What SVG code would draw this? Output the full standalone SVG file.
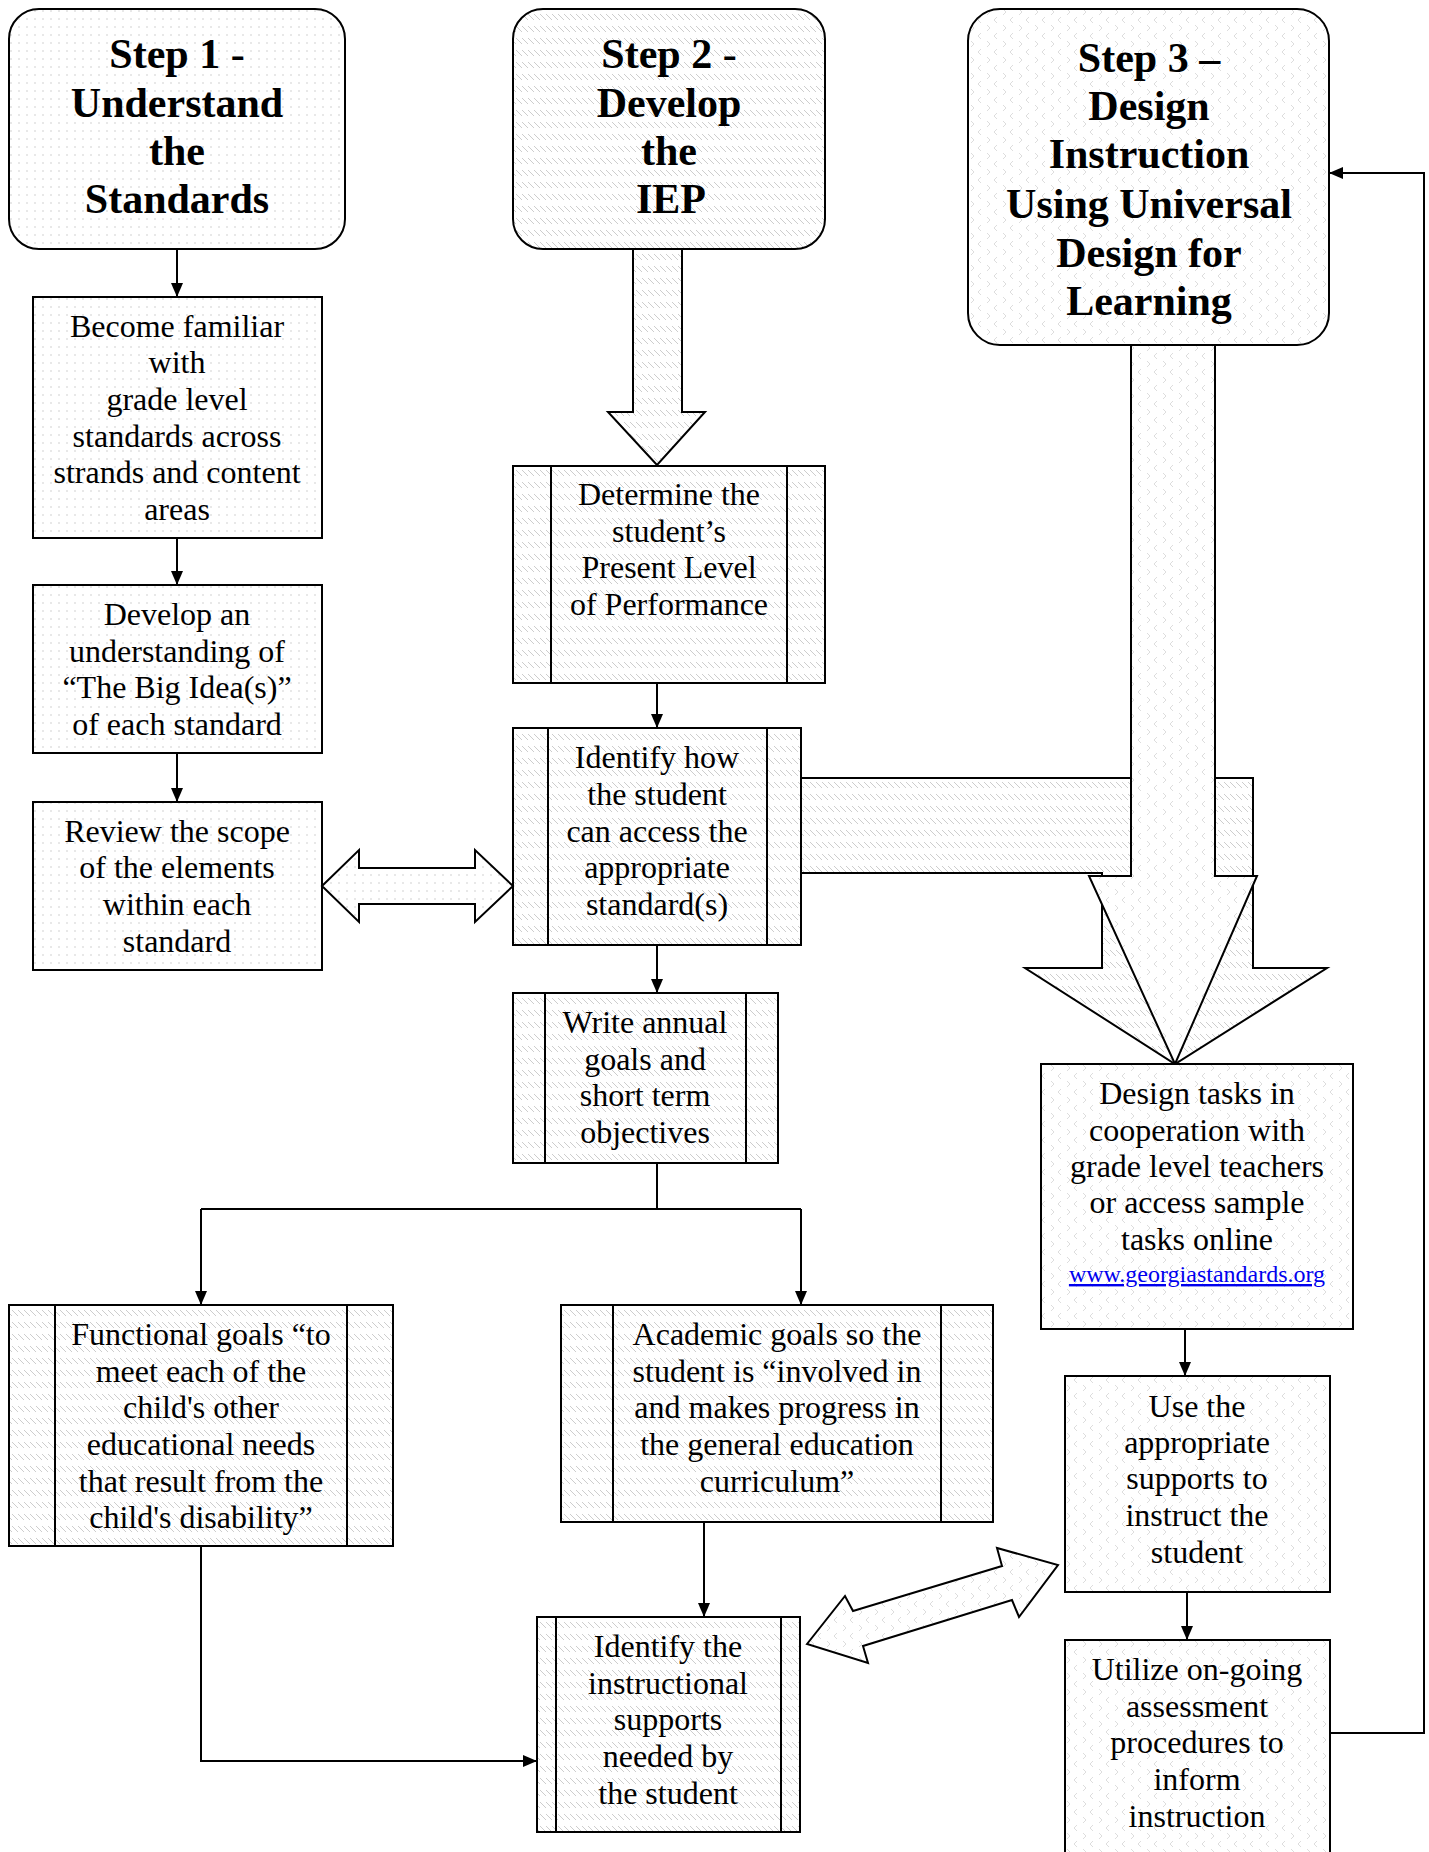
<svg xmlns="http://www.w3.org/2000/svg" width="1429" height="1852" viewBox="0 0 1429 1852">
<style>
.box{stroke:#000;stroke-width:2}
.t{font-family:"Liberation Serif","Times New Roman",serif;font-size:32px;text-anchor:middle;fill:#000}
.h{font-weight:bold;font-size:42px}
.url{font-size:24px;fill:#0000ee;text-decoration:underline}
.ln{stroke:#000;stroke-width:2;fill:none}
.ba{stroke:#000;stroke-width:2;stroke-linejoin:miter}
.dots{fill:url(#dots)}
.hatch{fill:url(#hatch)}
.zig{fill:url(#zig)}
</style>
<defs>
<pattern id="dots" width="8" height="8" patternUnits="userSpaceOnUse"><rect width="8" height="8" fill="#fff"/><circle cx="3" cy="3" r="0.8" fill="#cccccc"/></pattern>
<pattern id="hatch" width="6" height="12" patternUnits="userSpaceOnUse"><rect width="6" height="12" fill="#fff"/><path d="M0,2 L6,8" stroke="#cdcdcd" stroke-width="1"/></pattern>
<pattern id="zig" width="16" height="16" patternUnits="userSpaceOnUse"><rect width="16" height="16" fill="#fff"/><path d="M5,1 L2,4 L5,7 M11,9 L14,12 L11,15" stroke="#dddddd" stroke-width="1" fill="none"/></pattern>
<marker id="arr" viewBox="0 0 14 12" refX="14" refY="6" markerWidth="14" markerHeight="12" markerUnits="userSpaceOnUse" orient="auto"><path d="M0,0 L14,6 L0,12 Z" fill="#000"/></marker>
</defs>

<g id="step1">
<rect class="box dots" x="9" y="9" width="336" height="240" rx="30"/>
<text class="t h"><tspan x="177" y="68">Step 1 -</tspan><tspan x="177" y="117">Understand</tspan><tspan x="177" y="165">the</tspan><tspan x="177" y="213">Standards</tspan></text>
</g>
<g id="become">
<rect class="box dots" x="33" y="297" width="289" height="241"/>
<text class="t"><tspan x="177" y="337">Become familiar</tspan><tspan x="177" y="373">with</tspan><tspan x="177" y="410">grade level</tspan><tspan x="177" y="447">standards across</tspan><tspan x="177" y="483">strands and content</tspan><tspan x="177" y="520">areas</tspan></text>
</g>
<g id="develop">
<rect class="box dots" x="33" y="585" width="289" height="168"/>
<text class="t"><tspan x="177" y="625">Develop an</tspan><tspan x="177" y="662">understanding of</tspan><tspan x="177" y="698">“The Big Idea(s)”</tspan><tspan x="177" y="735">of each standard</tspan></text>
</g>
<g id="review">
<rect class="box dots" x="33" y="802" width="289" height="168"/>
<text class="t"><tspan x="177" y="842">Review the scope</tspan><tspan x="177" y="878">of the elements</tspan><tspan x="177" y="915">within each</tspan><tspan x="177" y="952">standard</tspan></text>
</g>

<g id="step2">
<rect class="box hatch" x="513" y="9" width="312" height="240" rx="30"/>
<text class="t h"><tspan x="669" y="68">Step 2 -</tspan><tspan x="669" y="117">Develop</tspan><tspan x="669" y="165">the</tspan><tspan x="671" y="213">IEP</tspan></text>
</g>
<g id="determine">
<rect class="box hatch" x="513" y="466" width="312" height="217"/>
<path class="ln" d="M551,466 V683 M787,466 V683"/>
<text class="t"><tspan x="669" y="505">Determine the</tspan><tspan x="669" y="542">student’s</tspan><tspan x="669" y="578">Present Level</tspan><tspan x="669" y="615">of Performance</tspan></text>
</g>
<g id="identify-access">
<rect class="box hatch" x="513" y="728" width="288" height="217"/>
<path class="ln" d="M548,728 V945 M767,728 V945"/>
<text class="t"><tspan x="657" y="768">Identify how</tspan><tspan x="657" y="805">the student</tspan><tspan x="657" y="842">can access the</tspan><tspan x="657" y="878">appropriate</tspan><tspan x="657" y="915">standard(s)</tspan></text>
</g>
<g id="write">
<rect class="box hatch" x="513" y="993" width="265" height="170"/>
<path class="ln" d="M545,993 V1163 M746,993 V1163"/>
<text class="t"><tspan x="645" y="1033">Write annual</tspan><tspan x="645" y="1070">goals and</tspan><tspan x="645" y="1106">short term</tspan><tspan x="645" y="1143">objectives</tspan></text>
</g>
<g id="functional">
<rect class="box hatch" x="9" y="1305" width="384" height="241"/>
<path class="ln" d="M55,1305 V1546 M347,1305 V1546"/>
<text class="t"><tspan x="201" y="1345">Functional goals “to</tspan><tspan x="201" y="1382">meet each of the</tspan><tspan x="201" y="1418">child's other</tspan><tspan x="201" y="1455">educational needs</tspan><tspan x="201" y="1492">that result from the</tspan><tspan x="201" y="1528">child's disability”</tspan></text>
</g>
<g id="academic">
<rect class="box hatch" x="561" y="1305" width="432" height="217"/>
<path class="ln" d="M613,1305 V1522 M941,1305 V1522"/>
<text class="t"><tspan x="777" y="1345">Academic goals so the</tspan><tspan x="777" y="1382">student is “involved in</tspan><tspan x="777" y="1418">and makes progress in</tspan><tspan x="777" y="1455">the general education</tspan><tspan x="777" y="1492">curriculum”</tspan></text>
</g>
<g id="identify-supports">
<rect class="box hatch" x="537" y="1617" width="263" height="215"/>
<path class="ln" d="M556,1617 V1832 M781,1617 V1832"/>
<text class="t"><tspan x="668" y="1657">Identify the</tspan><tspan x="668" y="1694">instructional</tspan><tspan x="668" y="1730">supports</tspan><tspan x="668" y="1767">needed by</tspan><tspan x="668" y="1804">the student</tspan></text>
</g>

<g id="connectors">
<g id="block-arrows">
<polygon class="ba hatch" points="633,249 682,249 682,412 705,412 657,465 608,412 633,412"/>
<polygon class="ba dots" points="322,886 359,850 359,868 475,868 475,850 513,886 475,922 475,904 359,904 359,922"/>
<polygon class="ba hatch" points="801,778 1253,778 1253,968 1327,968 1175,1064 1025,968 1102,968 1102,873 801,873"/>
<polygon class="ba zig" points="1131,345 1215,345 1215,876 1257,876 1175,1064 1089,876 1131,876"/>
<polygon class="ba zig" points="807,1644 845,1596 853,1611 1002,1566 997,1548 1058,1565 1019,1617 1012,1600 863,1646 868,1663"/>
</g>
<path class="ln" d="M177,249 V297" marker-end="url(#arr)"/>
<path class="ln" d="M177,538 V585" marker-end="url(#arr)"/>
<path class="ln" d="M177,753 V802" marker-end="url(#arr)"/>
<path class="ln" d="M657,683 V728" marker-end="url(#arr)"/>
<path class="ln" d="M657,945 V993" marker-end="url(#arr)"/>
<path class="ln" d="M657,1163 V1209 M201,1209 H801"/>
<path class="ln" d="M201,1209 V1305" marker-end="url(#arr)"/>
<path class="ln" d="M801,1209 V1305" marker-end="url(#arr)"/>
<path class="ln" d="M201,1546 V1761 H537" marker-end="url(#arr)"/>
<path class="ln" d="M704,1522 V1617" marker-end="url(#arr)"/>
<path class="ln" d="M1185,1329 V1376" marker-end="url(#arr)"/>
<path class="ln" d="M1187,1592 V1640" marker-end="url(#arr)"/>
<path class="ln" d="M1330,1733 H1424 V173 H1329" marker-end="url(#arr)"/>
</g>

<g id="step3">
<rect class="box zig" x="968" y="9" width="361" height="336" rx="32"/>
<text class="t h"><tspan x="1149" y="72">Step 3 –</tspan><tspan x="1149" y="120">Design</tspan><tspan x="1149" y="168">Instruction</tspan><tspan x="1149" y="218">Using Universal</tspan><tspan x="1149" y="267">Design for</tspan><tspan x="1149" y="315">Learning</tspan></text>
</g>
<g id="design-tasks">
<rect class="box zig" x="1041" y="1064" width="312" height="265"/>
<text class="t"><tspan x="1197" y="1104">Design tasks in</tspan><tspan x="1197" y="1141">cooperation with</tspan><tspan x="1197" y="1177">grade level teachers</tspan><tspan x="1197" y="1213">or access sample</tspan><tspan x="1197" y="1250">tasks online</tspan></text>
<text class="t url" x="1197" y="1282">www.georgiastandards.org</text>
</g>
<g id="use-supports">
<rect class="box zig" x="1065" y="1376" width="265" height="216"/>
<text class="t"><tspan x="1197" y="1417">Use the</tspan><tspan x="1197" y="1453">appropriate</tspan><tspan x="1197" y="1489">supports to</tspan><tspan x="1197" y="1526">instruct the</tspan><tspan x="1197" y="1563">student</tspan></text>
</g>
<g id="utilize">
<rect class="box zig" x="1065" y="1640" width="265" height="230"/>
<text class="t"><tspan x="1197" y="1680">Utilize on-going</tspan><tspan x="1197" y="1717">assessment</tspan><tspan x="1197" y="1753">procedures to</tspan><tspan x="1197" y="1790">inform</tspan><tspan x="1197" y="1827">instruction</tspan></text>
</g>
</svg>
